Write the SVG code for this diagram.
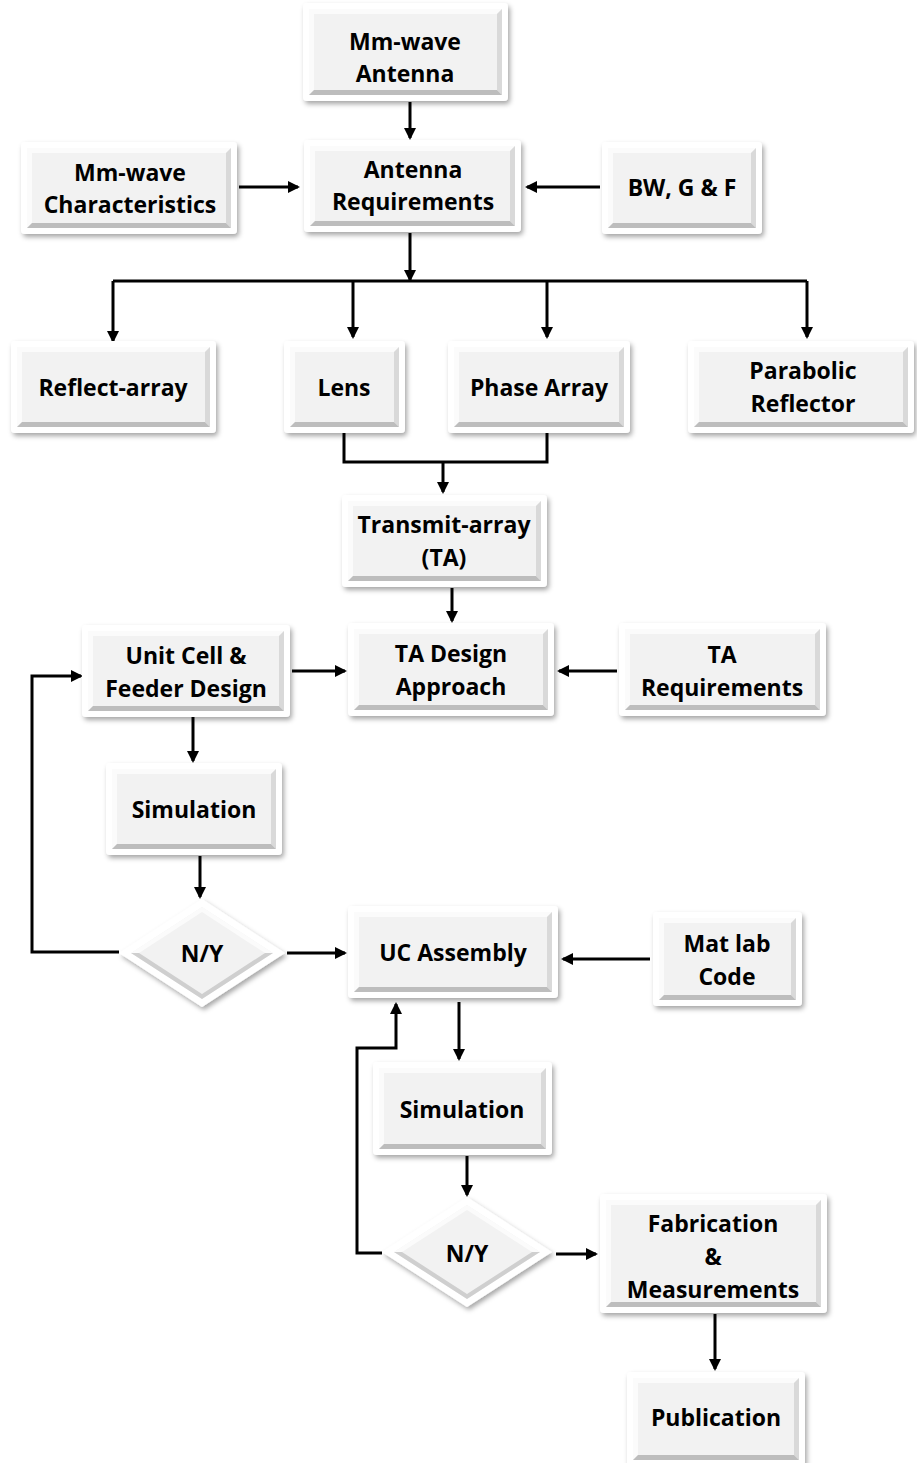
<svg xmlns="http://www.w3.org/2000/svg" width="917" height="1463" viewBox="0 0 917 1463">
<defs>
<filter id="sh" x="-10%" y="-10%" width="125%" height="130%">
<feDropShadow dx="2" dy="3" stdDeviation="2.5" flood-color="#000" flood-opacity="0.35"/>
</filter>
<marker id="ah" markerUnits="userSpaceOnUse" markerWidth="12" markerHeight="12" refX="10" refY="6" orient="auto">
<path d="M0,0 L12,6 L0,12 Z" fill="#000"/>
</marker>
</defs>
<style>
.outer{fill:#fff;filter:url(#sh)}
.face{fill:#f2f2f2}
.lt{fill:#fbfbfb}
.dk{fill:#bdbdbd}
.dd{fill:#cfcfcf}
.md{fill:#d9d9d9}
text{font-family:"Open Sans","Liberation Sans",sans-serif;font-weight:700;font-size:23px;fill:#000;text-anchor:middle}
.c path{fill:none;stroke:#000;stroke-width:3}
.c .a{marker-end:url(#ah)}
</style>
<rect width="917" height="1463" fill="#fff"/>

<g id="connectors" class="c">
<path class="a" d="M410 102 V138"/>
<path class="a" d="M239 187 H298"/>
<path class="a" d="M600 187 H527"/>
<path class="a" d="M410 233 V280"/>
<path d="M113 281 H807"/>
<path class="a" d="M113 281 V341"/>
<path class="a" d="M353 281 V337"/>
<path class="a" d="M547 281 V337"/>
<path class="a" d="M807 281 V337"/>
<path d="M344 433 V462 H547 V433"/>
<path class="a" d="M443 462 V492"/>
<path class="a" d="M452 588 V621"/>
<path class="a" d="M292 671 H345"/>
<path class="a" d="M617 671 H559"/>
<path class="a" d="M193 717 V761"/>
<path class="a" d="M200 856 V897"/>
<path class="a" d="M119 952 H32 V676 H81"/>
<path class="a" d="M287 953 H345"/>
<path class="a" d="M650 959 H563"/>
<path class="a" d="M459 1002 V1059"/>
<path class="a" d="M382 1253 H357 V1048 H396 V1004"/>
<path class="a" d="M467 1156 V1195"/>
<path class="a" d="M556 1254 H596"/>
<path class="a" d="M715 1314 V1369"/>
</g>

<g id="n1">
<rect class="outer" x="303" y="3" width="205" height="98" rx="4"/>
<rect class="face" x="309" y="9" width="193" height="86"/>
<path class="lt" d="M309 9 H502 L497 14 H314 V90 L309 95 Z"/>
<path class="md" d="M502 9 V95 L497 90 V14 Z"/>
<path class="dk" d="M309 95 H502 L497 90 H314 Z"/>
<text x="405" y="50">Mm-wave</text>
<text x="405" y="82">Antenna</text>
</g>

<g id="n2">
<rect class="outer" x="304" y="140" width="217" height="92" rx="4"/>
<rect class="face" x="310" y="146" width="205" height="80"/>
<path class="lt" d="M310 146 H515 L510 151 H315 V221 L310 226 Z"/>
<path class="md" d="M515 146 V226 L510 221 V151 Z"/>
<path class="dk" d="M310 226 H515 L510 221 H315 Z"/>
<text x="413" y="178">Antenna</text>
<text x="413" y="210">Requirements</text>
</g>

<g id="n3">
<rect class="outer" x="21" y="142" width="216" height="92" rx="4"/>
<rect class="face" x="27" y="148" width="204" height="80"/>
<path class="lt" d="M27 148 H231 L226 153 H32 V223 L27 228 Z"/>
<path class="md" d="M231 148 V228 L226 223 V153 Z"/>
<path class="dk" d="M27 228 H231 L226 223 H32 Z"/>
<text x="130" y="181">Mm-wave</text>
<text x="130" y="213">Characteristics</text>
</g>

<g id="n4">
<rect class="outer" x="602" y="142" width="160" height="92" rx="4"/>
<rect class="face" x="608" y="148" width="148" height="80"/>
<path class="lt" d="M608 148 H756 L751 153 H613 V223 L608 228 Z"/>
<path class="md" d="M756 148 V228 L751 223 V153 Z"/>
<path class="dk" d="M608 228 H756 L751 223 H613 Z"/>
<text x="682" y="196">BW, G &amp; F</text>
</g>

<g id="n5">
<rect class="outer" x="11" y="341" width="205" height="92" rx="4"/>
<rect class="face" x="17" y="347" width="193" height="80"/>
<path class="lt" d="M17 347 H210 L205 352 H22 V422 L17 427 Z"/>
<path class="md" d="M210 347 V427 L205 422 V352 Z"/>
<path class="dk" d="M17 427 H210 L205 422 H22 Z"/>
<text x="113" y="396">Reflect-array</text>
</g>

<g id="n6">
<rect class="outer" x="284" y="341" width="121" height="92" rx="4"/>
<rect class="face" x="290" y="347" width="109" height="80"/>
<path class="lt" d="M290 347 H399 L394 352 H295 V422 L290 427 Z"/>
<path class="md" d="M399 347 V427 L394 422 V352 Z"/>
<path class="dk" d="M290 427 H399 L394 422 H295 Z"/>
<text x="344" y="396">Lens</text>
</g>

<g id="n7">
<rect class="outer" x="448" y="341" width="182" height="92" rx="4"/>
<rect class="face" x="454" y="347" width="170" height="80"/>
<path class="lt" d="M454 347 H624 L619 352 H459 V422 L454 427 Z"/>
<path class="md" d="M624 347 V427 L619 422 V352 Z"/>
<path class="dk" d="M454 427 H624 L619 422 H459 Z"/>
<text x="539" y="396">Phase Array</text>
</g>

<g id="n8">
<rect class="outer" x="688" y="341" width="226" height="92" rx="4"/>
<rect class="face" x="694" y="347" width="214" height="80"/>
<path class="lt" d="M694 347 H908 L903 352 H699 V422 L694 427 Z"/>
<path class="md" d="M908 347 V427 L903 422 V352 Z"/>
<path class="dk" d="M694 427 H908 L903 422 H699 Z"/>
<text x="803" y="379">Parabolic</text>
<text x="803" y="412">Reflector</text>
</g>

<g id="n9">
<rect class="outer" x="342" y="495" width="205" height="92" rx="4"/>
<rect class="face" x="348" y="501" width="193" height="80"/>
<path class="lt" d="M348 501 H541 L536 506 H353 V576 L348 581 Z"/>
<path class="md" d="M541 501 V581 L536 576 V506 Z"/>
<path class="dk" d="M348 581 H541 L536 576 H353 Z"/>
<text x="444" y="533">Transmit-array</text>
<text x="444" y="566">(TA)</text>
</g>

<g id="n10">
<rect class="outer" x="82" y="625" width="208" height="92" rx="4"/>
<rect class="face" x="88" y="631" width="196" height="80"/>
<path class="lt" d="M88 631 H284 L279 636 H93 V706 L88 711 Z"/>
<path class="md" d="M284 631 V711 L279 706 V636 Z"/>
<path class="dk" d="M88 711 H284 L279 706 H93 Z"/>
<text x="186" y="664">Unit Cell &amp;</text>
<text x="186" y="697">Feeder Design</text>
</g>

<g id="n11">
<rect class="outer" x="348" y="623" width="206" height="93" rx="4"/>
<rect class="face" x="354" y="629" width="194" height="81"/>
<path class="lt" d="M354 629 H548 L543 634 H359 V705 L354 710 Z"/>
<path class="md" d="M548 629 V710 L543 705 V634 Z"/>
<path class="dk" d="M354 710 H548 L543 705 H359 Z"/>
<text x="451" y="662">TA Design</text>
<text x="451" y="695">Approach</text>
</g>

<g id="n12">
<rect class="outer" x="619" y="623" width="207" height="93" rx="4"/>
<rect class="face" x="625" y="629" width="195" height="81"/>
<path class="lt" d="M625 629 H820 L815 634 H630 V705 L625 710 Z"/>
<path class="md" d="M820 629 V710 L815 705 V634 Z"/>
<path class="dk" d="M625 710 H820 L815 705 H630 Z"/>
<text x="722" y="663">TA</text>
<text x="722" y="696">Requirements</text>
</g>

<g id="n13">
<rect class="outer" x="106" y="763" width="176" height="92" rx="4"/>
<rect class="face" x="112" y="769" width="164" height="80"/>
<path class="lt" d="M112 769 H276 L271 774 H117 V844 L112 849 Z"/>
<path class="md" d="M276 769 V849 L271 844 V774 Z"/>
<path class="dk" d="M112 849 H276 L271 844 H117 Z"/>
<text x="194" y="818">Simulation</text>
</g>

<g id="n14">
<polygon class="outer" points="119,953 202,899 285,953 202,1007"/>
<polygon class="face" points="131,953 202,907 273,953 202,999"/>
<polygon class="lt" points="131,953 202,907 273,953 265,953 202,912 139,953"/>
<polygon class="dd" points="131,953 202,999 273,953 265,953 202,994 139,953"/>
<text x="202" y="962">N/Y</text>
</g>

<g id="n15">
<rect class="outer" x="348" y="906" width="210" height="92" rx="4"/>
<rect class="face" x="354" y="912" width="198" height="80"/>
<path class="lt" d="M354 912 H552 L547 917 H359 V987 L354 992 Z"/>
<path class="md" d="M552 912 V992 L547 987 V917 Z"/>
<path class="dk" d="M354 992 H552 L547 987 H359 Z"/>
<text x="453" y="961">UC Assembly</text>
</g>

<g id="n16">
<rect class="outer" x="653" y="912" width="149" height="94" rx="4"/>
<rect class="face" x="659" y="918" width="137" height="82"/>
<path class="lt" d="M659 918 H796 L791 923 H664 V995 L659 1000 Z"/>
<path class="md" d="M796 918 V1000 L791 995 V923 Z"/>
<path class="dk" d="M659 1000 H796 L791 995 H664 Z"/>
<text x="727" y="952">Mat lab</text>
<text x="727" y="985">Code</text>
</g>

<g id="n17">
<rect class="outer" x="373" y="1062" width="179" height="93" rx="4"/>
<rect class="face" x="379" y="1068" width="167" height="81"/>
<path class="lt" d="M379 1068 H546 L541 1073 H384 V1144 L379 1149 Z"/>
<path class="md" d="M546 1068 V1149 L541 1144 V1073 Z"/>
<path class="dk" d="M379 1149 H546 L541 1144 H384 Z"/>
<text x="462" y="1118">Simulation</text>
</g>

<g id="n18">
<polygon class="outer" points="382,1252 467,1197 552,1252 467,1307"/>
<polygon class="face" points="394,1252 467,1205 540,1252 467,1299"/>
<polygon class="lt" points="394,1252 467,1205 540,1252 532,1252 467,1210 402,1252"/>
<polygon class="dd" points="394,1252 467,1299 540,1252 532,1252 467,1294 402,1252"/>
<text x="467" y="1262">N/Y</text>
</g>

<g id="n19">
<rect class="outer" x="600" y="1194" width="227" height="119" rx="4"/>
<rect class="face" x="606" y="1200" width="215" height="107"/>
<path class="lt" d="M606 1200 H821 L816 1205 H611 V1302 L606 1307 Z"/>
<path class="md" d="M821 1200 V1307 L816 1302 V1205 Z"/>
<path class="dk" d="M606 1307 H821 L816 1302 H611 Z"/>
<text x="713" y="1232">Fabrication</text>
<text x="713" y="1265">&amp;</text>
<text x="713" y="1298">Measurements</text>
</g>

<g id="n20">
<rect class="outer" x="627" y="1372" width="178" height="94" rx="4"/>
<rect class="face" x="633" y="1378" width="166" height="82"/>
<path class="lt" d="M633 1378 H799 L794 1383 H638 V1455 L633 1460 Z"/>
<path class="md" d="M799 1378 V1460 L794 1455 V1383 Z"/>
<path class="dk" d="M633 1460 H799 L794 1455 H638 Z"/>
<text x="716" y="1426">Publication</text>
</g>
</svg>
